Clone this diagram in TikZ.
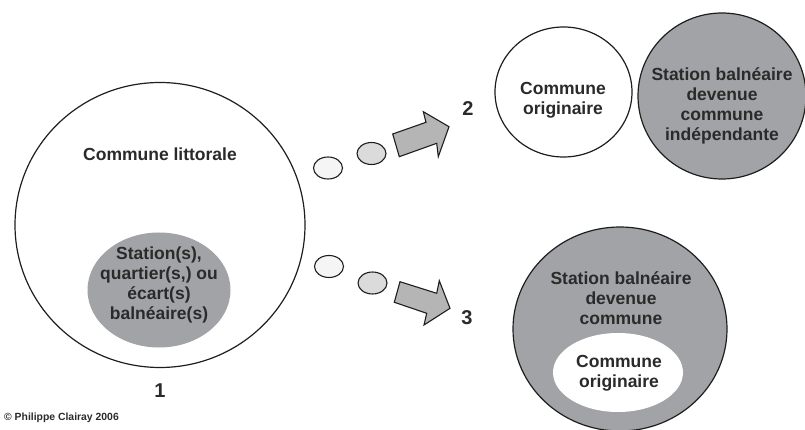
\documentclass[tikz,border=0pt]{standalone}
\usepackage{fontspec}
\setmainfont{Liberation Sans}
\usetikzlibrary{shapes.geometric}
\definecolor{circgray}{HTML}{A2A3A6}
\definecolor{txt}{HTML}{2A2A2A}
\definecolor{edge}{HTML}{1E1E1E}
\begin{document}
\begin{tikzpicture}[x=1pt,y=-1pt,
  circ/.style={ellipse, draw=edge, line width=1.2pt, inner sep=0pt},
  lbl/.style={font=\bfseries\fontsize{17.5}{20}\selectfont, text=txt, align=center, inner sep=0pt},
  num/.style={font=\bfseries\fontsize{20}{22}\selectfont, text=txt, inner sep=0pt},
  dot/.style={ellipse, draw=edge, line width=1.1pt, minimum width=29pt, minimum height=22pt, inner sep=0pt},
  blockarrow/.style={draw=edge, line width=1.1pt, line join=miter, fill=gray!58}
]
\useasboundingbox (0,0) rectangle (805,430);

% situation 1
\node[circ, fill=white, minimum width=290pt, minimum height=285pt] (big) at (160,225) {};
\node[circ, fill=circgray, draw=none, minimum width=143pt, minimum height=115pt] (station) at (159,290) {};
\node[lbl] (littorale) at (160,154) {Commune littorale};
\node[lbl] (stationtxt) at (159,285) {Station(s),\\quartier(s,) ou\\écart(s)\\balnéaire(s)};
\node[num] (n1) at (160,391) {1};
\node[font=\bfseries\fontsize{10.4}{12}\selectfont, text=txt, anchor=west, inner sep=0pt] (copy) at (4,418) {© Philippe Clairay 2006};

% situation 2
\node[circ, fill=white, minimum width=137pt, minimum height=130pt] (orig2) at (563.5,92) {};
\node[lbl] (orig2txt) at (563,100) {Commune\\originaire};
\node[circ, fill=circgray, minimum width=168pt, minimum height=166pt] (indep) at (722,96) {};
\node[lbl] (indeptxt) at (722,106) {Station balnéaire\\devenue\\commune\\indépendante};
\node[num] (n2) at (468,109) {2};

% situation 3
\node[circ, fill=circgray, minimum width=214pt, minimum height=204pt] (dev3) at (620,329) {};
\node[lbl] (dev3txt) at (621,298) {Station balnéaire\\devenue\\commune};
\node[ellipse, fill=white, draw=none, minimum width=130pt, minimum height=79pt, inner sep=0pt] (orig3) at (618,372.5) {};
\node[lbl] (orig3txt) at (619,373) {Commune\\originaire};
\node[num] (n3) at (467,318) {3};

% transition dots
\node[dot, fill=gray!8] (d21) at (328,168) {};
\node[dot, fill=gray!28] (d22) at (371.5,153.5) {};
\node[dot, fill=gray!8] (d31) at (329,266.5) {};
\node[dot, fill=gray!28] (d32) at (372.5,283) {};

% block arrows
\draw[blockarrow] (392.7,134) -- (399.3,156.7) -- (436.7,143.3) -- (438.3,156.7)
  -- (449,126.7) -- (423.3,111.7) -- (426,122.3) -- cycle;
\draw[blockarrow] (400,281.7) -- (394.3,302.3) -- (426.7,313.3) -- (424,325)
  -- (450,308.3) -- (439.3,280.7) -- (436.7,293.3) -- cycle;
\end{tikzpicture}
\end{document}
